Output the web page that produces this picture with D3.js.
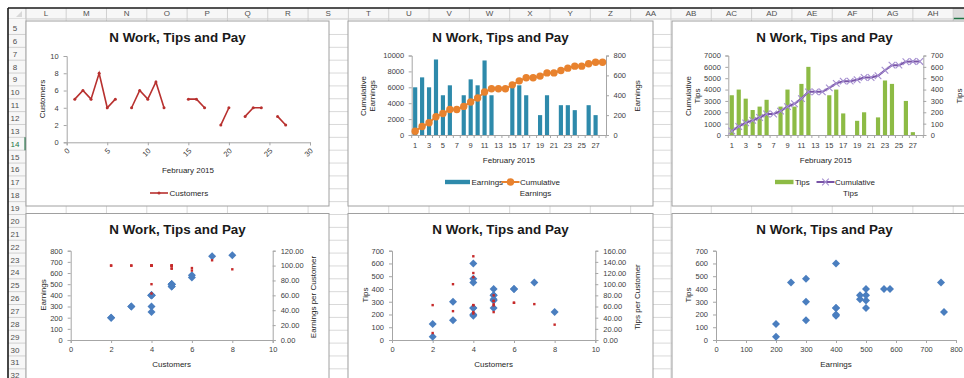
<!DOCTYPE html>
<html>
<head>
<meta charset="utf-8">
<script src="https://cdn.jsdelivr.net/npm/d3@7"></script>
<style>
  body { margin: 0; background: #fff; }
  svg text { font-family: "Liberation Sans", Arial, sans-serif; }
</style>
</head>
<body>
<svg id="sheet" width="964" height="378"></svg>
<script>
// ---------- worksheet labels ----------
const columnLetters = ["L","M","N","O","P","Q","R","S","T","U","V","W","X","Y","Z","AA","AB","AC","AD","AE","AF","AG","AH","AI"];
const rowNumbers = [5,6,7,8,9,10,11,12,13,14,15,16,17,18,19,20,21,22,23,24,25,26,27,28,29,30,31,32];

// ---------- daily log, February 2015 (null = no work that day) ----------
const days = [1,2,3,4,5,6,7,8,9,10,11,12,13,14,15,16,17,18,19,20,21,22,23,24,25,26,27,28];
const customers = [5,6,5,8,4,5,null,4,6,5,7,4,null,null,5,5,4,null,2,4,null,3,4,4,null,3,2,null];
const earnings = [480,580,480,760,400,500,null,400,560,500,750,400,null,null,500,500,400,null,200,400,null,300,300,250,null,300,200,null];
const tips = [350,400,320,220,250,310,null,250,400,250,450,600,null,null,350,400,190,null,125,200,null,155,480,450,null,300,25,null];
const cumulativeEarnings = [480,1060,1540,2300,2700,3200,3200,3600,4160,4660,5410,5810,5810,5810,6310,6810,7210,7210,7410,7810,7810,8110,8410,8660,8660,8960,9160,9160];
const cumulativeTips = [350,750,1070,1290,1540,1850,1850,2100,2500,2750,3200,3800,3800,3800,4150,4550,4740,4740,4865,5065,5065,5220,5700,6150,6150,6450,6475,6475];
const earningsPerCustomer = [96,96.67,96,95,100,100,null,100,93.33,100,107.14,100,null,null,100,100,100,null,100,100,null,100,75,62.5,null,100,100,null];
const tipsPerCustomer = [70,66.67,64,27.5,62.5,62,null,62.5,66.67,50,64.29,150,null,null,70,80,47.5,null,62.5,50,null,51.67,120,112.5,null,100,12.5,null];

// ---------- tick values ----------
const dayTicksLinear = [0,5,10,15,20,25,30];
const customerTicks = [0,2,4,6,8,10];
const dayLabels = [1,3,5,7,9,11,13,15,17,19,21,23,25,27];
const cumEarnTicks = [0,2000,4000,6000,8000,10000];
const earnTicks = [0,200,400,600,800];
const cumTipTicks = [0,1000,2000,3000,4000,5000,6000,7000];
const tipTicks = [0,100,200,300,400,500,600,700];
const earnTicks8 = [0,100,200,300,400,500,600,700,800];
const scatterXTicks = [0,2,4,6,8,10];
const epcTicks = [0,20,40,60,80,100,120];
const tpcTicks = [0,20,40,60,80,100,120,140,160];
const earnXTicks = [0,100,200,300,400,500,600,700,800];

const TITLE = "N Work, Tips and Pay";
const W = 964, H = 378;
const AXIS = "#a6a6a6", LABEL = "#404040";
const plain = d3.format("d");
const svg = d3.select("#sheet");

// ---------- spreadsheet background ----------
const colW = 40.32, colX0 = 25.84;
const rowH = 12.86, rowY0 = 21.6;
const grid = svg.append("g");
columnLetters.forEach((c, i) => {
  grid.append("line").attr("x1", colX0 + i * colW).attr("x2", colX0 + i * colW)
    .attr("y1", 19).attr("y2", H).attr("stroke", "#d9d9d9");
});
rowNumbers.forEach((r, i) => {
  const y = rowY0 + (i + 1) * rowH;
  grid.append("line").attr("x1", 8).attr("x2", W).attr("y1", y).attr("y2", y).attr("stroke", "#d9d9d9");
});
// column headers
grid.append("rect").attr("x", 8).attr("y", 8).attr("width", W - 8).attr("height", 11).attr("fill", "#f7f7f7");
grid.append("line").attr("x1", 8).attr("x2", W).attr("y1", 19).attr("y2", 19).attr("stroke", "#c8c8c8");
columnLetters.forEach((c, i) => {
  const x = colX0 + i * colW;
  if (c === "AI") {
    grid.append("rect").attr("x", x).attr("y", 8).attr("width", colW).attr("height", 11).attr("fill", "#dcdcdc");
    grid.append("line").attr("x1", x).attr("x2", x + colW).attr("y1", 18.5).attr("y2", 18.5).attr("stroke", "#217346").attr("stroke-width", 1.5);
  }
  grid.append("line").attr("x1", x).attr("x2", x).attr("y1", 8).attr("y2", 19).attr("stroke", "#d0d0d0");
  if (x + colW / 2 < W - 6) {
    grid.append("text").attr("x", x + colW / 2).attr("y", 13.8).attr("text-anchor", "middle")
      .attr("dominant-baseline", "central").attr("font-size", 8).attr("fill", "#505050").text(c);
  }
});
// row headers
grid.append("rect").attr("x", 8).attr("y", 19).attr("width", 18).attr("height", H - 19).attr("fill", "#f7f7f7");
grid.append("line").attr("x1", 26).attr("x2", 26).attr("y1", 8).attr("y2", H).attr("stroke", "#c8c8c8");
rowNumbers.forEach((r, i) => {
  const y = rowY0 + i * rowH;
  grid.append("line").attr("x1", 8).attr("x2", 26).attr("y1", y + rowH).attr("y2", y + rowH).attr("stroke", "#d0d0d0");
  grid.append("text").attr("x", 15).attr("y", y + rowH / 2 + 0.5).attr("text-anchor", "middle")
    .attr("dominant-baseline", "central").attr("font-size", 8)
    .attr("fill", r === 14 ? "#217346" : "#505050").text(r);
  if (r === 14) grid.append("line").attr("x1", 25.2).attr("x2", 25.2).attr("y1", y).attr("y2", y + rowH)
    .attr("stroke", "#217346").attr("stroke-width", 1.5);
});
grid.append("path").attr("d", "M16,17 L22,11 L22,17 Z").attr("fill", "#d8d8d8");
grid.append("line").attr("x1", 8).attr("x2", W).attr("y1", 8).attr("y2", 8).attr("stroke", "#1a1a1a").attr("stroke-width", 1.6);
grid.append("line").attr("x1", 8).attr("x2", 8).attr("y1", 8).attr("y2", H).attr("stroke", "#1a1a1a").attr("stroke-width", 1.6);

// ---------- helpers ----------
function chartBox(x, y, w, h) {
  const g = svg.append("g");
  g.append("rect").attr("x", x).attr("y", y).attr("width", w).attr("height", h)
    .attr("fill", "#fff").attr("stroke", "#a0a0a0").attr("stroke-width", 1);
  g.append("text").attr("x", x + w / 2).attr("y", y + 20.5).attr("text-anchor", "middle")
    .attr("font-size", 13.4).attr("font-weight", "bold").attr("fill", "#1a1a1a").text(TITLE);
  return g;
}
function styleAxis(a, size) {
  a.select(".domain").attr("stroke", AXIS);
  a.selectAll(".tick line").attr("stroke", AXIS);
  a.selectAll(".tick text").attr("fill", LABEL).attr("font-size", size || 7.5)
    .attr("font-family", "Liberation Sans, Arial, sans-serif");
  return a;
}
function label(g, x, y, txt, rot, anchor) {
  const t = g.append("text").attr("text-anchor", anchor || "middle").attr("dominant-baseline", "central")
    .attr("font-size", 8).attr("fill", "#262626").text(txt);
  if (rot) t.attr("transform", `translate(${x},${y}) rotate(${rot})`);
  else t.attr("x", x).attr("y", y);
  return t;
}
const pairs = (xs, ys) => xs.map((x, i) => ({ x, y: ys[i] })).filter(d => d.x != null && d.y != null);

// ---------- chart 1: customers per day ----------
{
  const g = chartBox(26, 21, 303, 185);
  const x = d3.scaleLinear([0, 30], [66.7, 310]);
  const y = d3.scaleLinear([0, 10], [142.3, 56]);
  styleAxis(g.append("g").attr("transform", "translate(66.7,0)")
    .call(d3.axisLeft(y).tickValues(customerTicks).tickSize(3).tickPadding(5)));
  const xa = styleAxis(g.append("g").attr("transform", "translate(0,142.3)")
    .call(d3.axisBottom(x).tickValues(dayTicksLinear).tickSize(3)));
  xa.selectAll(".tick text").attr("text-anchor", "end").attr("dy", null).attr("y", null)
    .attr("transform", "translate(3,9) rotate(-45)");
  const line = d3.line().defined(d => d.v != null).x(d => x(d.d)).y(d => y(d.v));
  const data = days.map((d, i) => ({ d, v: customers[i] }));
  g.append("path").attr("d", line(data)).attr("fill", "none").attr("stroke", "#b8312f").attr("stroke-width", 1.6);
  g.selectAll(null).data(data.filter(d => d.v != null)).join("circle")
    .attr("cx", d => x(d.d)).attr("cy", d => y(d.v)).attr("r", 1.5).attr("fill", "#b8312f");
  label(g, 42.5, 99, "Customers", -90);
  label(g, 188, 170.5, "February 2015");
  g.append("line").attr("x1", 150).attr("x2", 168).attr("y1", 193).attr("y2", 193).attr("stroke", "#b8312f").attr("stroke-width", 1.6);
  g.append("circle").attr("cx", 159).attr("cy", 193).attr("r", 1.5).attr("fill", "#b8312f");
  label(g, 169.5, 193, "Customers", 0, "start");
}

// ---------- bar + cumulative line chart ----------
function comboChart(o) {
  const g = chartBox(o.box[0], o.box[1], o.box[2], o.box[3]);
  const xb = d3.scaleBand(days, [o.x0, o.x1]).paddingInner(0.4).paddingOuter(0.2);
  const yL = d3.scaleLinear([0, o.leftMax], [135, 55.5]);
  const yR = d3.scaleLinear([0, o.rightMax], [135, 55.5]);
  styleAxis(g.append("g").attr("transform", `translate(${o.x0},0)`)
    .call(d3.axisLeft(yL).tickValues(o.leftTicks).tickSize(3).tickPadding(4.5).tickFormat(plain)));
  styleAxis(g.append("g").attr("transform", `translate(${o.x1},0)`)
    .call(d3.axisRight(yR).tickValues(o.rightTicks).tickSize(3).tickPadding(4.5).tickFormat(plain)));
  // bars on the secondary axis
  g.selectAll(null).data(days.map((d, i) => ({ d, v: o.bars[i] })).filter(d => d.v != null)).join("rect")
    .attr("x", d => xb(d.d)).attr("width", xb.bandwidth())
    .attr("y", d => yR(d.v)).attr("height", d => 135 - yR(d.v)).attr("fill", o.barColor);
  // category axis
  styleAxis(g.append("g").attr("transform", "translate(0,135)")
    .call(d3.axisBottom(xb).tickValues(dayLabels).tickSize(0).tickPadding(7.5)));
  g.selectAll(null).data(days.concat([29])).join("line")
    .attr("x1", (d, i) => o.x0 + i * xb.step()).attr("x2", (d, i) => o.x0 + i * xb.step())
    .attr("y1", 135).attr("y2", 138).attr("stroke", AXIS);
  // cumulative line on the primary axis
  const pts = days.map((d, i) => ({ d, v: o.line[i] }));
  const ln = d3.line().x(d => xb(d.d) + xb.bandwidth() / 2).y(d => yL(d.v));
  g.append("path").attr("d", ln(pts)).attr("fill", "none").attr("stroke", o.lineColor).attr("stroke-width", 2);
  o.marker(g, pts.map(d => [xb(d.d) + xb.bandwidth() / 2, yL(d.v)]));
  // titles
  label(g, o.leftTitleX, 96, o.leftTitle[0], -90);
  label(g, o.leftTitleX + 8.5, 96, o.leftTitle[1], -90);
  label(g, o.rightTitleX, 96, o.rightTitle, -90);
  label(g, (o.x0 + o.x1) / 2, 160, "February 2015");
  // legend
  const L = o.legend;
  g.append("rect").attr("x", L.bx).attr("y", 179.8).attr("width", L.bw).attr("height", 4.4).attr("fill", o.barColor);
  label(g, L.bx + L.bw + 1.5, 182, o.rightTitle, 0, "start");
  g.append("line").attr("x1", L.lx).attr("x2", L.lx + 18).attr("y1", 182).attr("y2", 182)
    .attr("stroke", o.lineColor).attr("stroke-width", 2);
  o.marker(g, [[L.lx + 9, 182]]);
  label(g, L.lx + 18.5, 182, "Cumulative", 0, "start");
  label(g, L.lx + 18.5 + 15.5, 193, o.rightTitle);
}

comboChart({
  box: [348, 21, 305, 185], x0: 411.7, x1: 606,
  leftMax: 10000, rightMax: 800, leftTicks: cumEarnTicks, rightTicks: earnTicks,
  bars: earnings, line: cumulativeEarnings,
  barColor: "#2e8aab", lineColor: "#e8822e",
  marker: (g, p) => g.selectAll(null).data(p).join("circle").attr("cx", d => d[0]).attr("cy", d => d[1])
    .attr("r", 3.7).attr("fill", "#e8822e"),
  leftTitle: ["Cumulative", "Earnings"], leftTitleX: 363.5, rightTitle: "Earnings", rightTitleX: 637,
  legend: { bx: 445, bw: 25, lx: 501.5 }
});

comboChart({
  box: [672, 21, 305, 185], x0: 728.3, x1: 923.3,
  leftMax: 7000, rightMax: 700, leftTicks: cumTipTicks, rightTicks: tipTicks,
  bars: tips, line: cumulativeTips,
  barColor: "#8dbb45", lineColor: "#7853a6",
  marker: (g, p) => g.selectAll(null).data(p).join("path")
    .attr("d", d => `M${d[0] - 3.3},${d[1] - 3.3}L${d[0] + 3.3},${d[1] + 3.3}M${d[0] - 3.3},${d[1] + 3.3}L${d[0] + 3.3},${d[1] - 3.3}`)
    .attr("stroke", "#a58fd0").attr("stroke-width", 1.1),
  leftTitle: ["Cumulative", "Tips"], leftTitleX: 688.5, rightTitle: "Tips", rightTitleX: 959.5,
  legend: { bx: 775, bw: 18.5, lx: 816.5 }
});

// ---------- scatter charts ----------
function scatterChart(o) {
  const g = chartBox(o.box[0], 213.5, o.box[1], 200);
  const x = d3.scaleLinear(o.xDomain, [o.x0, o.x1]);
  const yL = d3.scaleLinear([0, o.leftMax], [340, 250.7]);
  styleAxis(g.append("g").attr("transform", `translate(${o.x0},0)`)
    .call(d3.axisLeft(yL).tickValues(o.leftTicks).tickSize(3).tickPadding(5)));
  styleAxis(g.append("g").attr("transform", "translate(0,340)")
    .call(d3.axisBottom(x).tickValues(o.xTicks).tickSize(3).tickPadding(4)));
  let yR = null;
  if (o.rightMax) {
    yR = d3.scaleLinear([0, o.rightMax], [340, 250.7]);
    styleAxis(g.append("g").attr("transform", `translate(${o.x1},0)`)
      .call(d3.axisRight(yR).tickValues(o.rightTicks).tickSize(3).tickPadding(5).tickFormat(d3.format(".2f"))));
    label(g, o.rightTitleX, 297, o.rightTitle, -90);
  }
  const diamond = d3.symbol(d3.symbolSquare, 32);
  g.selectAll(null).data(pairs(o.xs, o.ys)).join("path").attr("d", diamond)
    .attr("transform", d => `translate(${x(d.x)},${yL(d.y)}) rotate(45)`).attr("fill", "#4a7ebf");
  if (yR) {
    g.selectAll(null).data(pairs(o.xs, o.ys2)).join("rect")
      .attr("x", d => x(d.x) - 1.2).attr("y", d => yR(d.y) - 1.2).attr("width", 2.4).attr("height", 2.4)
      .attr("fill", "#c62a2a");
  }
  label(g, o.leftTitleX, 295, o.leftTitle, -90);
  label(g, (o.x0 + o.x1) / 2, 364.5, o.xTitle);
}

scatterChart({
  box: [26, 303], x0: 70.7, x1: 272.7, xDomain: [0, 10], xTicks: scatterXTicks,
  leftMax: 800, leftTicks: earnTicks8, rightMax: 120, rightTicks: epcTicks,
  xs: customers, ys: earnings, ys2: earningsPerCustomer,
  leftTitle: "Earnings", leftTitleX: 43, rightTitle: "Earnings per Customer", rightTitleX: 313.5,
  xTitle: "Customers"
});
scatterChart({
  box: [348, 305], x0: 392, x1: 595.3, xDomain: [0, 10], xTicks: scatterXTicks,
  leftMax: 700, leftTicks: tipTicks, rightMax: 160, rightTicks: tpcTicks,
  xs: customers, ys: tips, ys2: tipsPerCustomer,
  leftTitle: "Tips", leftTitleX: 365, rightTitle: "Tips per Customer", rightTitleX: 637,
  xTitle: "Customers"
});
scatterChart({
  box: [672, 305], x0: 716, x1: 956, xDomain: [0, 800], xTicks: earnXTicks,
  leftMax: 700, leftTicks: tipTicks,
  xs: earnings, ys: tips,
  leftTitle: "Tips", leftTitleX: 688.5, xTitle: "Earnings"
});
</script>
</body>
</html>
